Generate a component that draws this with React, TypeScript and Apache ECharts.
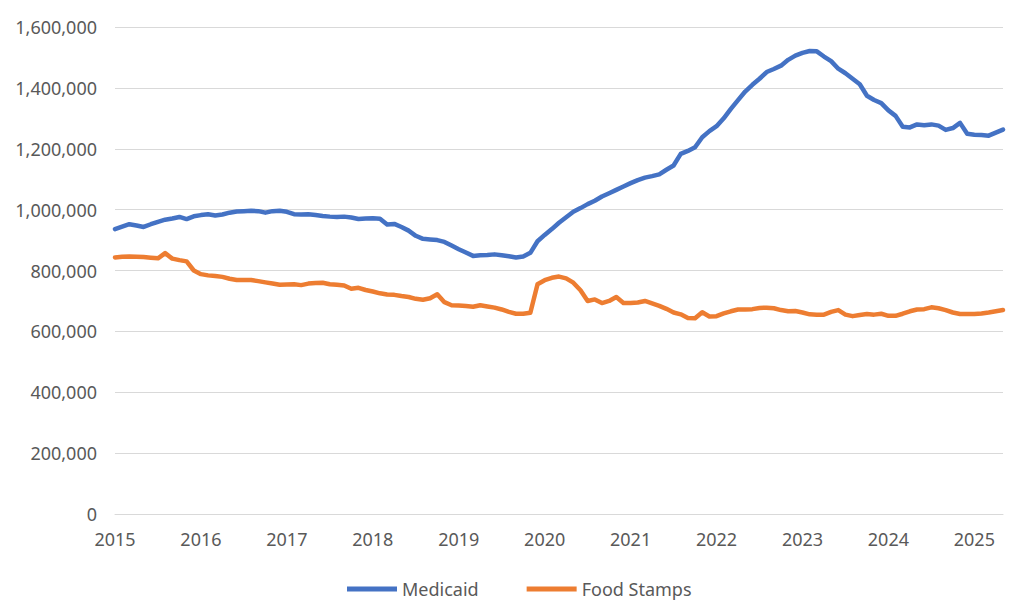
import React, { useEffect, useRef } from "react";
import * as echarts from "echarts";

const yearTicks = ["2015", "2016", "2017", "2018", "2019", "2020", "2021", "2022", "2023", "2024", "2025"];
const monthsPerYear = 12;
const monthCount = 125; // Jan 2015 .. May 2025
const categories: string[] = Array.from({ length: monthCount }, (_, i) =>
  `${2015 + Math.floor(i / monthsPerYear)}-${String((i % monthsPerYear) + 1).padStart(2, "0")}`
);

const medicaid = [
  936000, 944000, 952000, 948000, 943000, 952000, 960000, 967000, 971000, 976000, 969000, 978000,
  982000, 985000, 981000, 984000, 990000, 994000, 995000, 996000, 995000, 990000, 995000, 996000,
  993000, 985000, 984000, 985000, 982000, 979000, 977000, 976000, 977000, 974000, 969000, 971000,
  972000, 970000, 951000, 953000, 943000, 931000, 914000, 904000, 902000, 900000, 894000, 882000,
  870000, 859000, 848000, 850000, 851000, 853000, 850000, 847000, 843000, 846000, 858000, 896000,
  917000, 936000, 957000, 975000, 993000, 1005000, 1018000, 1029000, 1043000, 1054000, 1065000, 1076000,
  1087000, 1097000, 1105000, 1110000, 1116000, 1131000, 1145000, 1183000, 1193000, 1205000, 1238000, 1258000,
  1274000, 1300000, 1331000, 1360000, 1388000, 1410000, 1430000, 1452000, 1462000, 1473000, 1492000, 1506000,
  1515000, 1521000, 1520000, 1503000, 1488000, 1463000, 1448000, 1430000, 1412000, 1374000, 1360000, 1350000,
  1326000, 1308000, 1272000, 1270000, 1280000, 1277000, 1280000, 1276000, 1262000, 1268000, 1285000, 1249000,
  1246000, 1245000, 1243000, 1253000, 1263000,
];

const foodStamps = [
  843000, 845000, 846000, 845000, 844000, 842000, 840000, 857000, 839000, 834000, 830000, 800000,
  788000, 784000, 782000, 779000, 773000, 769000, 769000, 769000, 765000, 761000, 757000, 753000,
  754000, 755000, 752000, 757000, 759000, 760000, 755000, 753000, 751000, 740000, 743000, 736000,
  731000, 725000, 721000, 720000, 716000, 713000, 707000, 704000, 709000, 722000, 696000, 686000,
  685000, 683000, 681000, 686000, 682000, 678000, 672000, 664000, 658000, 658000, 661000, 755000,
  768000, 776000, 780000, 774000, 760000, 735000, 700000, 705000, 693000, 700000, 713000, 693000,
  693000, 695000, 700000, 692000, 684000, 674000, 662000, 656000, 644000, 643000, 663000, 649000,
  650000, 659000, 666000, 672000, 672000, 673000, 677000, 678000, 676000, 670000, 666000, 667000,
  662000, 656000, 655000, 655000, 664000, 670000, 655000, 650000, 654000, 657000, 655000, 658000,
  651000, 651000, 658000, 666000, 672000, 673000, 679000, 676000, 670000, 662000, 657000, 657000,
  657000, 659000, 662000, 666000, 670000,
];

const yMin = 0;
const yMax = 1600000;
const yInterval = 200000;

export default function App() {
  const ref = useRef<HTMLDivElement>(null);

  useEffect(() => {
    if (!ref.current) return;
    const chart = echarts.init(ref.current, undefined, { renderer: "svg" });
    const font = "'Noto Sans', 'Open Sans', sans-serif";
    chart.setOption({
      animation: false,
      backgroundColor: "#ffffff",
      grid: { left: 115, right: 21, top: 27, bottom: 101, containLabel: false },
      legend: {
        bottom: 12,
        left: 342,
        icon: "rect",
        itemWidth: 50,
        itemHeight: 5,
        itemGap: 48,
        textStyle: { color: "#595959", fontSize: 18, fontFamily: font },
        data: ["Medicaid", "Food Stamps"],
      },
      xAxis: {
        type: "category",
        data: categories,
        boundaryGap: false,
        axisLine: { show: true, lineStyle: { color: "#D9D9D9", width: 1 } },
        axisTick: { show: false },
        splitLine: { show: false },
        axisLabel: {
          interval: monthsPerYear - 1,
          color: "#595959",
          fontSize: 18,
          fontFamily: font,
          margin: 16,
          formatter: (v: string) => {
            const y = v.slice(0, 4);
            return yearTicks.includes(y) ? y : "";
          },
        },
      },
      yAxis: {
        type: "value",
        min: yMin,
        max: yMax,
        interval: yInterval,
        axisLine: { show: false },
        axisTick: { show: false },
        splitLine: { show: true, lineStyle: { color: "#D9D9D9", width: 1 } },
        axisLabel: {
          color: "#595959",
          fontSize: 18,
          fontFamily: font,
          margin: 18,
          formatter: (v: number) => v.toLocaleString("en-US"),
        },
      },
      series: [
        {
          name: "Medicaid",
          type: "line",
          data: medicaid,
          showSymbol: false,
          symbol: "none",
          lineStyle: { color: "#4472C4", width: 4.5, join: "round", cap: "round" },
          itemStyle: { color: "#4472C4" },
        },
        {
          name: "Food Stamps",
          type: "line",
          data: foodStamps,
          showSymbol: false,
          symbol: "none",
          lineStyle: { color: "#ED7D31", width: 4.5, join: "round", cap: "round" },
          itemStyle: { color: "#ED7D31" },
        },
      ],
    });
    return () => chart.dispose();
  }, []);

  return (
    <div
      ref={ref}
      style={{ position: "fixed", left: 0, top: 0, width: 1024, height: 615, background: "#fff" }}
    />
  );
}
